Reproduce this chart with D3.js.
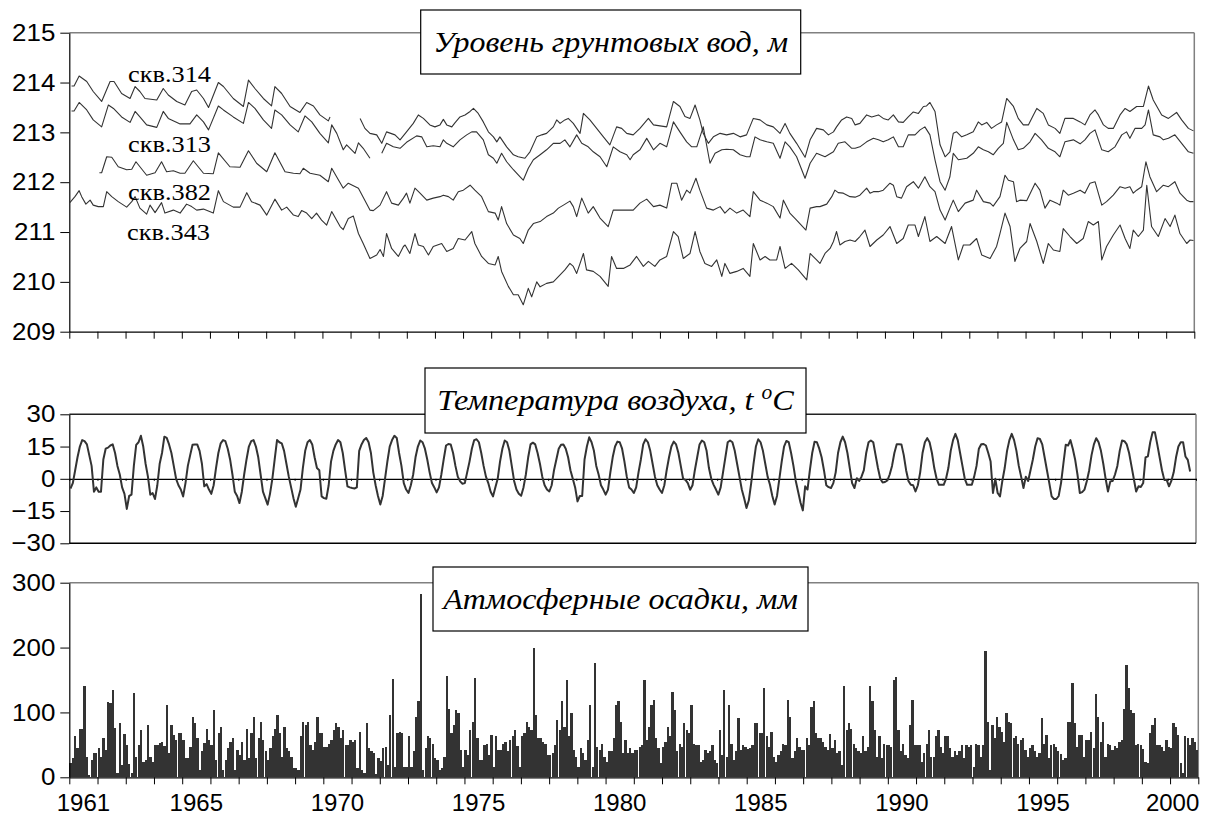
<!DOCTYPE html>
<html><head><meta charset="utf-8">
<script src="https://d3js.org/d3.v7.min.js"></script>
<style>body{margin:0;background:#fff}svg{display:block}</style>
</head><body>
<svg id="c" width="1214" height="818"></svg>
<script>
// ---------------- DATA ----------------
const yearEdges = d3.range(1961, 2002);
const yearLabels = [1961, 1965, 1970, 1975, 1980, 1985, 1990, 1995, 2000];
const gwTicks = [209, 210, 211, 212, 213, 214, 215];
const tTicks = [-30, -15, 0, 15, 30];
const pTicks = [0, 100, 200, 300];
const wellNames = ["скв.314", "скв.313", "скв.382", "скв.343"];
const titles = ["Уровень грунтовых вод, м", "Температура воздуха, t ", "Атмосферные осадки, мм"];

// groundwater level [decimal year, m]; null = gap
const gw314 = [[1961.08,213.93],[1961.17,213.93],[1961.35,214.13],[1961.62,214.02],[1961.85,213.82],[1962.15,213.62],[1962.27,213.78],[1962.45,214.02],[1962.59,214.02],[1962.86,213.78],[1963.16,213.68],[1963.34,213.92],[1963.51,213.82],[1963.69,213.68],[1964.11,213.65],[1964.34,213.88],[1964.52,213.75],[1964.82,213.62],[1965.11,213.55],[1965.35,213.82],[1965.53,213.85],[1965.77,213.68],[1965.95,213.5],[1966.3,214.0],[1966.48,213.92],[1966.83,213.68],[1967.19,213.52],[1967.37,214.05],[1967.6,213.88],[1967.9,213.68],[1968.19,213.53],[1968.31,213.92],[1968.55,213.78],[1968.85,213.52],[1969.2,213.4],[1969.44,213.6],[1969.68,213.53],[1969.91,213.35],[1970.21,213.23],[1970.27,213.31],[1970.8,null],[1971.34,213.28],[1971.51,213.08],[1971.69,212.98],[1971.93,212.95],[1972.11,212.78],[1972.28,213.01],[1972.58,212.95],[1972.76,212.85],[1972.99,213.01],[1973.23,213.18],[1973.41,213.35],[1973.59,213.28],[1973.82,213.15],[1974.0,213.11],[1974.18,213.15],[1974.3,213.26],[1974.42,213.15],[1974.6,213.11],[1974.71,213.19],[1974.89,213.31],[1975.07,213.35],[1975.25,213.42],[1975.37,213.48],[1975.54,213.38],[1975.72,213.21],[1975.9,213.01],[1976.08,212.91],[1976.2,212.81],[1976.31,212.91],[1976.55,212.71],[1976.79,212.55],[1976.96,212.51],[1977.2,212.48],[1977.38,212.61],[1977.62,212.91],[1977.8,212.95],[1977.97,212.98],[1978.21,213.11],[1978.33,213.25],[1978.45,213.18],[1978.62,213.25],[1978.74,213.28],[1978.92,213.18],[1979.16,212.98],[1979.28,213.38],[1979.51,213.25],[1979.75,213.08],[1979.99,212.91],[1980.22,212.75],[1980.46,213.11],[1980.64,213.08],[1980.82,212.98],[1981.05,212.95],[1981.29,213.08],[1981.59,213.28],[1981.77,213.15],[1982.0,213.13],[1982.24,213.11],[1982.48,213.62],[1982.71,213.52],[1982.89,213.32],[1983.07,213.28],[1983.25,213.55],[1983.42,213.25],[1983.54,212.98],[1983.72,212.78],[1983.9,212.91],[1984.14,212.98],[1984.37,212.95],[1984.61,212.98],[1984.85,212.91],[1985.08,212.95],[1985.32,213.28],[1985.56,213.25],[1985.8,213.15],[1986.03,213.11],[1986.27,212.98],[1986.45,213.18],[1986.62,212.98],[1986.86,212.78],[1987.16,212.5],[1987.34,212.85],[1987.57,213.08],[1987.81,213.05],[1987.99,212.95],[1988.17,213.01],[1988.28,213.11],[1988.46,213.25],[1988.64,213.31],[1988.82,213.28],[1988.94,213.15],[1989.11,213.18],[1989.35,213.35],[1989.53,213.31],[1989.77,213.35],[1989.94,213.28],[1990.12,213.25],[1990.3,213.35],[1990.48,213.21],[1990.65,213.2],[1990.83,213.31],[1991.01,213.41],[1991.19,213.38],[1991.37,213.52],[1991.48,213.53],[1991.6,213.6],[1991.78,213.42],[1991.96,212.75],[1992.14,212.51],[1992.31,212.61],[1992.43,212.98],[1992.55,213.01],[1992.73,212.91],[1992.91,212.95],[1993.14,213.01],[1993.32,213.21],[1993.44,213.15],[1993.62,213.2],[1993.79,213.08],[1993.97,213.15],[1994.15,213.21],[1994.33,213.68],[1994.57,213.52],[1994.74,213.28],[1994.92,213.15],[1995.1,213.15],[1995.28,213.35],[1995.4,213.48],[1995.63,213.38],[1995.81,213.15],[1996.05,213.08],[1996.22,212.98],[1996.4,213.28],[1996.7,213.28],[1996.94,213.21],[1997.11,213.15],[1997.29,213.35],[1997.47,213.45],[1997.59,213.35],[1997.77,213.15],[1997.94,213.08],[1998.12,213.08],[1998.36,213.35],[1998.54,213.48],[1998.71,213.42],[1998.95,213.52],[1999.19,213.52],[1999.37,213.93],[1999.54,213.65],[1999.84,213.35],[2000.08,213.28],[2000.37,213.4],[2000.55,213.25],[2000.79,213.08],[2000.97,213.03]];

const gw313 = [[1961.08,213.43],[1961.17,213.43],[1961.35,213.6],[1961.62,213.45],[1961.85,213.25],[1962.15,213.11],[1962.39,213.55],[1962.57,213.48],[1962.86,213.31],[1963.16,213.2],[1963.34,213.42],[1963.51,213.31],[1963.75,213.15],[1964.11,213.1],[1964.34,213.42],[1964.52,213.28],[1964.94,213.17],[1965.29,213.17],[1965.53,213.35],[1965.77,213.21],[1965.95,213.05],[1966.3,213.53],[1966.48,213.45],[1966.83,213.31],[1967.19,213.18],[1967.37,213.6],[1967.6,213.48],[1967.9,213.25],[1968.19,213.08],[1968.31,213.45],[1968.55,213.35],[1968.85,213.15],[1969.14,213.01],[1969.38,213.33],[1969.62,213.21],[1969.91,212.98],[1970.21,212.79],[1970.33,213.15],[1970.51,212.98],[1970.74,212.65],[1970.86,212.75],[1971.16,212.58],[1971.28,212.79],[1971.45,212.68],[1971.69,212.48],[1971.9,null],[1972.11,212.58],[1972.28,212.78],[1972.52,212.71],[1972.76,212.68],[1972.99,212.8],[1973.35,212.93],[1973.53,212.91],[1973.71,212.71],[1973.94,212.73],[1974.18,212.71],[1974.3,212.85],[1974.42,212.78],[1974.65,212.71],[1974.89,212.85],[1975.13,212.95],[1975.31,213.01],[1975.48,213.01],[1975.72,212.85],[1975.9,212.55],[1976.08,212.48],[1976.2,212.38],[1976.37,212.58],[1976.55,212.41],[1976.79,212.25],[1977.02,212.11],[1977.14,212.04],[1977.32,212.28],[1977.5,212.45],[1977.74,212.55],[1977.97,212.65],[1978.21,212.78],[1978.45,212.78],[1978.62,212.85],[1978.8,212.71],[1979.04,212.95],[1979.22,212.78],[1979.45,212.71],[1979.63,212.61],[1979.87,212.51],[1980.11,212.31],[1980.34,212.71],[1980.58,212.61],[1980.82,212.55],[1980.94,212.45],[1981.05,212.55],[1981.29,212.65],[1981.53,212.88],[1981.77,212.65],[1982.0,212.78],[1982.24,212.71],[1982.48,213.21],[1982.71,213.01],[1982.95,212.81],[1983.13,212.71],[1983.31,212.71],[1983.54,213.11],[1983.78,212.38],[1983.96,212.58],[1984.2,212.65],[1984.37,212.66],[1984.61,212.65],[1984.85,212.55],[1985.08,212.51],[1985.2,212.51],[1985.38,212.91],[1985.56,212.85],[1985.8,212.81],[1986.03,212.78],[1986.27,212.48],[1986.45,212.81],[1986.62,212.71],[1986.86,212.51],[1987.16,212.08],[1987.34,212.38],[1987.57,212.58],[1987.87,212.51],[1988.17,212.61],[1988.34,212.78],[1988.58,212.81],[1988.82,212.68],[1988.94,212.68],[1989.11,212.71],[1989.35,212.81],[1989.59,212.88],[1989.77,212.85],[1989.94,212.81],[1990.12,212.85],[1990.3,212.91],[1990.48,212.71],[1990.65,212.71],[1990.83,212.95],[1991.07,212.95],[1991.25,213.05],[1991.42,213.11],[1991.6,212.95],[1991.78,212.45],[1991.96,212.01],[1992.14,211.84],[1992.31,212.11],[1992.43,212.58],[1992.61,212.45],[1992.91,212.48],[1993.14,212.58],[1993.32,212.71],[1993.5,212.65],[1993.68,212.61],[1993.85,212.55],[1994.03,212.68],[1994.21,212.78],[1994.33,213.2],[1994.57,212.85],[1994.74,212.65],[1994.92,212.68],[1995.16,212.81],[1995.34,212.98],[1995.57,212.85],[1995.81,212.68],[1996.05,212.61],[1996.22,212.51],[1996.4,212.81],[1996.7,212.85],[1996.94,212.77],[1997.11,212.85],[1997.29,212.98],[1997.47,213.05],[1997.71,212.65],[1997.94,212.61],[1998.18,212.71],[1998.42,212.95],[1998.59,213.01],[1998.71,212.88],[1998.89,213.08],[1999.13,213.08],[1999.25,213.15],[1999.37,213.45],[1999.54,212.95],[1999.78,212.91],[1999.9,212.85],[2000.08,212.88],[2000.31,212.95],[2000.55,212.78],[2000.79,212.61],[2000.97,212.58]];

const gw382 = [[1962.07,212.19],[1962.15,212.19],[1962.33,212.51],[1962.51,212.5],[1962.74,212.31],[1963.04,212.25],[1963.22,212.26],[1963.37,212.41],[1963.75,212.14],[1964.05,212.19],[1964.28,212.41],[1964.46,212.21],[1964.7,212.23],[1964.94,212.18],[1965.11,212.18],[1965.41,212.43],[1965.77,212.18],[1966.12,212.17],[1966.3,212.59],[1966.71,212.31],[1967.07,212.3],[1967.37,212.63],[1967.66,212.38],[1968.02,212.21],[1968.31,212.59],[1968.67,212.21],[1968.97,212.18],[1969.2,212.17],[1969.32,212.28],[1969.56,212.18],[1969.91,212.14],[1970.21,212.01],[1970.33,212.28],[1970.74,211.88],[1970.92,211.98],[1971.28,211.88],[1971.69,211.44],[1971.81,211.43],[1972.05,211.54],[1972.28,211.81],[1972.46,211.58],[1972.7,211.54],[1972.88,211.68],[1972.99,211.78],[1973.11,211.58],[1973.29,211.88],[1973.47,211.78],[1973.71,211.64],[1973.94,211.68],[1974.18,211.71],[1974.3,211.74],[1974.48,211.71],[1974.65,211.64],[1974.83,211.81],[1975.01,211.84],[1975.25,211.94],[1975.42,211.84],[1975.66,211.71],[1975.9,211.41],[1976.14,211.38],[1976.25,211.24],[1976.37,211.51],[1976.55,211.17],[1976.79,210.94],[1977.02,210.87],[1977.14,210.77],[1977.32,211.04],[1977.5,211.17],[1977.74,211.21],[1977.97,211.31],[1978.21,211.38],[1978.39,211.48],[1978.57,211.54],[1978.8,211.62],[1978.92,211.51],[1979.04,211.31],[1979.22,211.68],[1979.45,211.38],[1979.63,211.51],[1979.87,211.28],[1980.16,211.11],[1980.34,211.44],[1980.58,211.44],[1980.82,211.44],[1981.05,211.44],[1981.29,211.58],[1981.53,211.66],[1981.77,211.51],[1982.0,211.54],[1982.24,211.48],[1982.42,211.98],[1982.6,211.98],[1982.77,211.64],[1982.95,211.84],[1983.07,211.78],[1983.28,212.08],[1983.42,211.84],[1983.66,211.48],[1983.9,211.44],[1984.14,211.51],[1984.31,211.38],[1984.49,211.48],[1984.73,211.38],[1984.96,211.44],[1985.2,211.31],[1985.32,211.81],[1985.56,211.64],[1985.8,211.58],[1986.03,211.51],[1986.27,211.28],[1986.39,211.64],[1986.62,211.38],[1986.86,211.24],[1987.19,211.04],[1987.34,211.48],[1987.57,211.51],[1987.69,211.51],[1987.93,211.56],[1988.11,211.71],[1988.22,211.84],[1988.34,211.79],[1988.52,211.78],[1988.76,211.71],[1988.94,211.7],[1989.11,211.74],[1989.35,211.88],[1989.47,211.78],[1989.59,211.81],[1989.77,211.81],[1989.94,211.84],[1990.18,211.98],[1990.3,211.94],[1990.42,211.71],[1990.59,211.68],[1990.77,211.91],[1991.01,212.01],[1991.19,211.88],[1991.42,212.11],[1991.6,211.91],[1991.78,211.81],[1991.96,211.44],[1992.14,211.24],[1992.31,211.48],[1992.43,211.64],[1992.61,211.41],[1992.85,211.58],[1993.14,211.64],[1993.26,211.84],[1993.5,211.61],[1993.74,211.58],[1993.85,211.52],[1994.09,211.71],[1994.27,212.14],[1994.39,212.04],[1994.57,212.01],[1994.68,211.61],[1994.8,211.64],[1995.04,211.63],[1995.34,211.98],[1995.51,211.84],[1995.69,211.48],[1995.87,211.64],[1996.11,211.58],[1996.22,211.54],[1996.34,211.84],[1996.52,211.74],[1996.7,211.78],[1996.94,211.84],[1997.11,211.78],[1997.29,211.98],[1997.47,212.01],[1997.71,211.54],[1997.88,211.61],[1998.12,211.74],[1998.36,211.91],[1998.54,211.88],[1998.71,211.91],[1998.83,211.78],[1998.95,211.84],[1999.13,211.91],[1999.28,212.41],[1999.42,212.11],[1999.66,211.81],[1999.9,211.94],[2000.08,211.91],[2000.31,212.01],[2000.49,211.78],[2000.73,211.64],[2000.85,211.61],[2000.97,211.61]];

const gw343 = [[1961.02,211.59],[1961.2,211.71],[1961.35,211.83],[1961.44,211.71],[1961.59,211.56],[1961.74,211.64],[1961.85,211.54],[1962.03,211.51],[1962.21,211.51],[1962.33,211.81],[1962.51,211.71],[1962.74,211.61],[1963.04,211.5],[1963.22,211.61],[1963.34,211.71],[1963.51,211.48],[1963.75,211.36],[1963.87,211.54],[1964.05,211.39],[1964.28,211.59],[1964.4,211.38],[1964.7,211.44],[1964.94,211.38],[1965.17,211.56],[1965.35,211.51],[1965.53,211.44],[1965.77,211.46],[1966.12,211.38],[1966.3,211.83],[1966.48,211.61],[1966.83,211.5],[1967.07,211.5],[1967.31,211.79],[1967.48,211.61],[1967.78,211.54],[1968.02,211.34],[1968.31,211.66],[1968.55,211.44],[1968.73,211.5],[1968.97,211.34],[1969.14,211.31],[1969.26,211.43],[1969.44,211.38],[1969.62,211.27],[1969.79,211.38],[1969.97,211.24],[1970.15,211.14],[1970.33,211.41],[1970.63,211.11],[1970.74,211.05],[1970.92,211.27],[1971.1,211.32],[1971.28,210.97],[1971.45,210.77],[1971.69,210.47],[1971.93,210.54],[1972.05,210.65],[1972.17,210.51],[1972.28,210.97],[1972.46,210.67],[1972.7,210.51],[1972.88,210.71],[1972.94,210.74],[1973.11,210.57],[1973.29,210.97],[1973.41,210.74],[1973.59,210.71],[1973.77,210.54],[1973.94,210.71],[1974.24,210.77],[1974.42,210.61],[1974.65,210.67],[1974.83,210.87],[1975.07,210.84],[1975.31,211.01],[1975.42,210.77],[1975.66,210.51],[1975.9,210.37],[1976.14,210.34],[1976.25,210.51],[1976.37,210.21],[1976.61,209.91],[1976.79,209.74],[1976.96,209.74],[1977.14,209.54],[1977.32,209.87],[1977.44,209.7],[1977.62,210.0],[1977.74,209.9],[1977.97,209.97],[1978.21,210.0],[1978.45,210.14],[1978.62,210.24],[1978.8,210.37],[1978.92,210.31],[1979.04,210.17],[1979.28,210.57],[1979.39,210.24],[1979.63,210.21],[1979.87,210.11],[1980.16,209.91],[1980.28,210.51],[1980.46,210.27],[1980.7,210.27],[1980.94,210.34],[1981.17,210.51],[1981.41,210.31],[1981.59,210.41],[1981.82,210.31],[1982.0,210.44],[1982.24,210.51],[1982.48,211.01],[1982.65,210.91],[1982.83,210.47],[1983.07,210.57],[1983.25,211.01],[1983.42,210.61],[1983.6,210.37],[1983.84,210.31],[1984.02,210.44],[1984.2,210.11],[1984.31,210.37],[1984.49,210.17],[1984.73,210.21],[1984.96,210.27],[1985.2,210.11],[1985.32,210.77],[1985.56,210.44],[1985.74,210.51],[1985.91,210.44],[1986.15,210.44],[1986.27,210.71],[1986.45,210.27],[1986.68,210.37],[1986.92,210.24],[1987.22,210.04],[1987.34,210.57],[1987.57,210.44],[1987.69,210.37],[1987.87,210.57],[1988.05,210.67],[1988.17,210.81],[1988.28,211.01],[1988.4,210.74],[1988.58,210.81],[1988.76,210.84],[1988.94,210.81],[1989.11,210.91],[1989.29,211.04],[1989.47,210.71],[1989.71,210.84],[1989.94,210.94],[1990.18,211.11],[1990.42,210.77],[1990.65,210.87],[1990.83,211.14],[1991.07,211.14],[1991.19,210.91],[1991.42,211.31],[1991.6,210.81],[1991.84,210.91],[1992.14,210.77],[1992.37,211.11],[1992.61,210.44],[1992.79,210.74],[1993.02,210.74],[1993.26,210.87],[1993.44,210.54],[1993.74,210.47],[1993.97,210.71],[1994.09,210.97],[1994.27,211.38],[1994.45,211.11],[1994.62,210.41],[1994.8,210.67],[1995.04,210.81],[1995.16,211.17],[1995.4,210.81],[1995.63,210.37],[1995.81,210.77],[1995.99,210.64],[1996.22,210.61],[1996.34,211.07],[1996.58,210.91],[1996.82,210.77],[1997.05,210.87],[1997.23,211.21],[1997.41,211.14],[1997.59,211.21],[1997.71,210.44],[1997.88,210.71],[1998.12,210.94],[1998.36,211.14],[1998.54,210.87],[1998.71,210.67],[1998.83,211.04],[1999.01,210.91],[1999.19,211.04],[1999.31,211.94],[1999.48,211.11],[1999.72,210.91],[1999.96,211.27],[2000.14,211.11],[2000.31,211.34],[2000.49,210.97],[2000.73,210.77],[2000.85,210.84],[2000.97,210.83]];

// monthly air temperature, °C (Jan..Dec per row, 1961..2000)
const temperature = [
-4.5,-2,4,10,15,18,17.5,16,11,6,-6,-4,
-6,-6,9,14,14.5,15.5,16,12,6,2,-4,-7,
-14,-8,-7.4,6,15.8,17,20,15,7,1,-7.4,-6.6,
-9.4,-3,7,12,19.6,19,16,12,6,0,-3,-5,
-8.2,-2,6,11,15.8,16,16,13,7,-3.5,-2.5,-5,
-7,-3,5,12,16.5,18,17.5,14,9,2,-6,-8,
-11.3,-6,2,9,15,17.5,18,15,10,2,-6,-9,
-12,-7,0,9,18,17,16.5,13,7,1,-4,-9,
-13,-9,-5,5,13,17,18,16,10,5,4,-8.2,
-9,-9.3,-3,8,13,16,18,17,12,4,-3.5,-4,
-4.3,-4.5,-4,13,16,18,19,17,12,3,-3,-8,
-12,-8,0,8,15,18,20,19,12,6,-2,-5,
-6.6,-3,2,10,15,17.8,17,14,9,3,-2,-4,
-6.3,-4,2,9,15.5,16.2,16,12,6,1,-1.2,-2.3,
-2,3,8,14,18,18.4,17,12,6,1,-2,-6,
-8.2,-4,0,8,14,17.8,17,13,6,-1,-5,-7,
-7.9,-4,2,10,16,16.8,16,12,7,1,-3,-5,
-5.9,-3,4,9,14,15.8,16,14,10,4,0,-4,
-10.5,-8,-8,9,15,19.3,17,13,6,2,-3,-5,
-7.4,-5,3,10,15,17.3,17,14,8,1,-4,-5,
-6.6,-4,3,9,16,18.4,17,13,7,1,-3,-5,
-6.6,-3,4,10,15,17.3,16,12,6,0,-0.5,-2,
-5.1,-3,4,10,16,17.8,17,13,5,0,-2.8,-5,
-7.4,-4,3,10,17,17.8,17,13,7,1,-5,-9,
-13.6,-10,-2,7,15,18.4,17,13,7,1,-2.8,-8,
-12,-8,0,8,15,17.6,17,12,6,-1,-6,-11,
-14.7,-3.5,-5,4,12,17.2,17,14,10,4,-3,-3.9,
-4.3,-2,3,12,17,19.6,17,12,5,-2,-4.3,0.3,
-1,1,4,12,17,17.8,17,11,5,0,-1.7,-1.5,
-0.8,2,6,12,16.1,16.1,16,11,4,-1,-2.8,-3,
-5.9,-3,3,12,17,18.9,17,12,5,0,-2.8,-2.8,
-2.8,0,5,13,18,20.9,18,12,6,0,-2.8,-2.8,
-2.8,1,6,14,16.1,16.2,15.5,12,8,-6.6,0,-6.6,
-8.2,-1,5,13,18,20.9,18,13,6,1,-4.3,1,
-1,4,9,15,18.9,18.5,16,10,4,-2,-8.2,-9.4,
-9.4,-8,-2,7,15.8,15.5,18,14,9,2,-6.6,-6.2,
-5,-1,4,11,16,18.9,17,13,7,0,-5.9,-1.2,
-1,2,6,13,17.8,17.5,16,12,6,0,-5.9,-3.5,
-3.8,-2,10,10.5,17,21.6,21.6,16,10,4,-0.5,-0.5,
-3.5,-1,3,10,15,17,17,10.4,8.8,3.4,null,null];

// monthly precipitation, mm (Jan..Dec per row, 1961..2000)
const precipitation = [
22,29,63,45,74,75,140,32,4,26,38,38,
45,31,60,42,116,114,135,76,6,84,19,66,
50,20,6,130,32,50,73,23,27,81,32,23,
50,50,53,55,48,111,38,81,65,57,69,69,
57,29,29,47,93,83,60,12,40,53,74,57,
50,103,27,69,78,11,27,45,55,60,11,42,
34,55,27,74,30,68,93,29,60,86,57,40,
27,45,63,75,96,68,32,78,45,40,32,14,
14,11,63,86,81,86,50,42,55,93,68,68,
47,47,52,57,73,83,77,60,73,50,50,57,
55,57,14,70,11,6,83,45,40,37,5,30,
25,45,47,19,96,152,16,68,70,68,16,16,
63,16,40,93,117,282,11,45,63,60,52,29,
27,11,14,32,156,106,68,81,104,99,42,16,
42,35,73,86,153,60,27,27,50,52,34,65,
16,63,42,42,52,55,40,57,63,73,48,16,
63,68,86,78,73,199,96,60,60,55,52,34,
34,37,50,88,73,117,78,150,63,99,42,32,
16,45,37,27,57,111,16,176,47,42,52,32,
24,40,40,60,111,117,86,37,57,37,45,37,
42,42,47,50,150,57,78,111,119,60,45,22,
47,55,78,63,132,104,40,52,47,83,73,68,
111,52,50,50,24,27,42,38,40,50,27,22,
73,34,135,32,111,52,27,40,91,42,50,47,
44,45,50,83,84,68,68,137,63,47,70,32,
24,34,40,52,50,119,93,29,40,60,47,42,
42,60,50,109,118,68,60,60,55,47,42,67,
45,57,38,40,19,140,73,83,75,52,45,40,
37,63,40,47,140,117,73,32,63,29,52,50,
50,47,150,155,73,40,52,34,29,81,119,50,
50,50,24,37,52,73,32,32,63,73,47,38,
63,63,45,32,40,34,40,50,29,50,47,50,
16,52,50,32,50,194,86,11,81,60,93,78,
70,55,99,86,83,60,63,52,57,60,42,32,
45,50,40,32,37,91,52,65,29,50,52,47,
40,36,27,29,86,86,146,83,47,65,65,32,
57,57,70,45,129,93,55,86,32,52,50,42,
48,45,55,57,106,173,137,104,99,50,52,50,
44,24,22,68,81,91,50,50,47,40,57,47,
45,83,78,65,22,6,63,60,50,60,55,42];

// ---------------- LAYOUT ----------------
const W = 1214, H = 818;
const P1 = {x0: 69.3, x1: 1194.3, y0: 32.7, y1: 331.7};
const P2 = {x0: 69.3, x1: 1196,   y0: 414.3, y1: 543.3};
const P3 = {x0: 69.3, x1: 1198.3, y0: 582.7, y1: 777.3};
const INK = "#333333", GREY = "#808080";
const AXFONT = "'Liberation Sans', Arial, sans-serif";
const SERIF = "'Liberation Serif', 'Times New Roman', serif";
const fmtInt = d3.format("d");

const svg = d3.select("#c");
svg.append("rect").attr("width", W).attr("height", H).attr("fill", "#fff");

function styleAxis(g) {
  g.select(".domain").attr("stroke", "#000").attr("stroke-width", 1.2);
  g.selectAll(".tick line").attr("stroke", "#000").attr("stroke-width", 1);
  g.selectAll(".tick text").attr("fill", "#000").attr("font-family", AXFONT).attr("font-size", 24);
}
// widen y tick labels slightly (reference glyphs are horizontally stretched), anchored at their right end
function stretchY(g) {
  g.selectAll(".tick text").each(function () {
    const t = d3.select(this);
    const x = +t.attr("x");
    t.attr("transform", `translate(${x},0) scale(1.08,1) translate(${-x},0)`);
  });
}
function line(x1, y1, x2, y2, col, w) {
  svg.append("line").attr("x1", x1).attr("y1", y1).attr("x2", x2).attr("y2", y2)
     .attr("stroke", col).attr("stroke-width", w);
}
function fitText(sel, cx, baseline, width) {
  const bw = sel.node().getBBox().width;
  const s = width / bw;
  sel.attr("transform", `translate(${cx},${baseline}) scale(${s},1)`);
}

// ---------- Panel 1: groundwater ----------
const x1s = d3.scaleLinear().domain([1961, 2001]).range([P1.x0, P1.x1]);
const y1s = d3.scaleLinear().domain([209, 215]).range([P1.y1, P1.y0]);
line(P1.x0, P1.y0, P1.x1, P1.y0, GREY, 1.5);
line(P1.x1, P1.y0, P1.x1, P1.y1, GREY, 1.5);
svg.append("g").attr("transform", `translate(0,${P1.y1})`)
  .call(d3.axisBottom(x1s).tickValues(yearEdges).tickSize(7).tickSizeOuter(0).tickFormat(""))
  .call(styleAxis);
svg.append("g").attr("transform", `translate(${P1.x0},0)`)
  .call(d3.axisLeft(y1s).tickValues(gwTicks).tickFormat(fmtInt).tickSize(9).tickPadding(5).tickSizeOuter(0))
  .call(styleAxis).call(stretchY);

const gwLine = d3.line().defined(d => d[1] !== null)
  .x(d => x1s(d[0])).y(d => y1s(d[1]));
[gw314, gw313, gw382, gw343].forEach(s => {
  svg.append("path").attr("d", gwLine(s)).attr("fill", "none")
     .attr("stroke", INK).attr("stroke-width", 1.1).attr("stroke-linejoin", "round");
});
const wellLabelPos = [[128, 82], [128, 152], [128, 199.5], [127, 240]];
wellNames.forEach((n, i) => {
  const t = svg.append("text").text(n).attr("font-family", SERIF).attr("font-size", 24)
     .attr("fill", "#000").attr("text-anchor", "start");
  fitText(t, wellLabelPos[i][0], wellLabelPos[i][1], 83);
});

// ---------- Panel 2: temperature ----------
const x2s = d3.scaleLinear().domain([0, temperature.length]).range([P2.x0, P2.x1]);
const x2y = d3.scaleLinear().domain([1961, 2001]).range([P2.x0, P2.x1]);
const y2s = d3.scaleLinear().domain([-30, 30]).range([P2.y1, P2.y0]);
line(P2.x0, P2.y0, P2.x1, P2.y0, "#222", 1.5);
line(P2.x1, P2.y0, P2.x1, P2.y1, GREY, 1.5);
line(P2.x0, P2.y1, P2.x1, P2.y1, "#000", 1.5);
svg.append("g").attr("transform", `translate(0,${y2s(0)})`)
  .call(d3.axisBottom(x2y).tickValues(yearEdges).tickSize(2).tickSizeOuter(0).tickFormat(""))
  .call(styleAxis);
svg.append("g").attr("transform", `translate(${P2.x0},0)`)
  .call(d3.axisLeft(y2s).tickValues(tTicks).tickFormat(fmtInt).tickSize(9).tickPadding(5).tickSizeOuter(0))
  .call(styleAxis).call(stretchY);
const tLine = d3.line().defined(d => d !== null)
  .x((d, i) => x2s(i + 0.5)).y(d => y2s(d));
svg.append("path").attr("d", tLine(temperature)).attr("fill", "none")
  .attr("stroke", INK).attr("stroke-width", 2).attr("stroke-linejoin", "round");

// ---------- Panel 3: precipitation ----------
const x3b = d3.scaleBand().domain(d3.range(precipitation.length)).range([P3.x0, P3.x1]).paddingInner(0.04).paddingOuter(0.02);
const x3y = d3.scaleLinear().domain([1961, 2001]).range([P3.x0, P3.x1]);
const y3s = d3.scaleLinear().domain([0, 300]).range([P3.y1, P3.y0]);
line(P3.x0, P3.y0, P3.x1, P3.y0, GREY, 1.5);
line(P3.x1, P3.y0, P3.x1, P3.y1, GREY, 1.5);
svg.append("g").attr("shape-rendering", "crispEdges")
  .selectAll("rect").data(precipitation).join("rect")
  .attr("x", (d, i) => x3b(i)).attr("width", x3b.bandwidth())
  .attr("y", d => y3s(d)).attr("height", d => y3s(0) - y3s(d))
  .attr("fill", INK);
svg.append("g").attr("transform", `translate(0,${P3.y1})`)
  .call(d3.axisBottom(x3y).tickValues(yearEdges).tickSize(7).tickSizeOuter(0).tickFormat(""))
  .call(styleAxis);
svg.append("g").attr("transform", `translate(${P3.x0},0)`)
  .call(d3.axisLeft(y3s).tickValues(pTicks).tickFormat(fmtInt).tickSize(9).tickPadding(5).tickSizeOuter(0))
  .call(styleAxis).call(stretchY);
yearLabels.forEach((yr, i) => {
  const last = i === yearLabels.length - 1;
  svg.append("text").text(yr)
    .attr("x", last ? P3.x1 + 1 : x3y(yr + 0.5)).attr("y", 811)
    .attr("text-anchor", last ? "end" : "middle")
    .attr("font-family", AXFONT).attr("font-size", 24).attr("fill", "#000");
});

// ---------- Title boxes ----------
const boxes = [
  {x: 420.7, y: 10, w: 380, h: 64, base: 52, tw: 355},
  {x: 425, y: 368, w: 381, h: 65, base: 410, tw: 358},
  {x: 433, y: 567, w: 375, h: 64, base: 609, tw: 357}
];
boxes.forEach((b, i) => {
  svg.append("rect").attr("x", b.x).attr("y", b.y).attr("width", b.w).attr("height", b.h)
     .attr("fill", "#fff").attr("stroke", "#000").attr("stroke-width", 1.2);
  const t = svg.append("text").attr("font-family", SERIF).attr("font-style", "italic")
     .attr("font-size", 30).attr("fill", "#000").attr("text-anchor", "middle");
  if (i === 1) {
    t.append("tspan").text(titles[1]);
    t.append("tspan").text("o").attr("font-size", 20).attr("dy", -11);
    t.append("tspan").text("C").attr("dy", 11);
  } else {
    t.text(titles[i]);
  }
  fitText(t, b.x + b.w / 2, b.base, b.tw);
});
</script>
</body></html>
